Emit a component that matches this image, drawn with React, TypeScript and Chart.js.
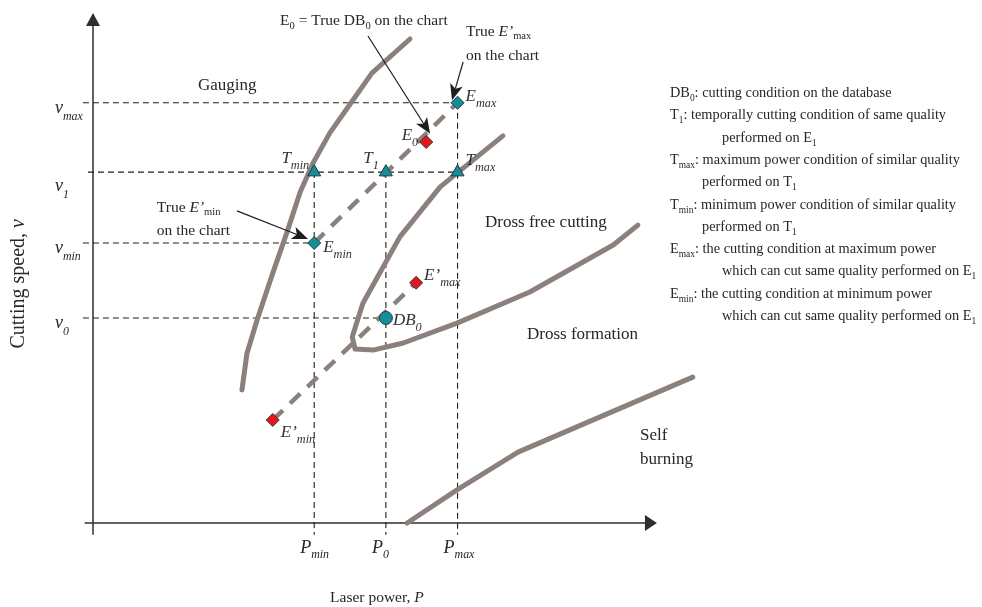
import React, { useEffect, useRef } from "react";
import { Chart, registerables } from "chart.js";

Chart.register(...registerables);

// ---------------- Data (arbitrary units: P = laser power, v = cutting speed) ----------------
const powerTickLabels = ["P_min", "P_0", "P_max"];
const powerTickValues = [39.5, 52.3, 65.1];
const speedTickLabels = ["v_max", "v_1", "v_min", "v_0"];
const speedTickValues = [82.4, 68.8, 54.9, 40.2];

const gaugingP = [26.6, 27.5, 29.3, 32.1, 34.6, 37.0, 39.3, 42.3, 46.4, 49.8, 56.6];
const gaugingV = [26.1, 33.3, 39.8, 49.0, 56.9, 64.9, 70.6, 76.5, 82.9, 88.2, 94.9];
const drossP = [73.2, 65.0, 62.0, 54.8, 48.2, 46.3, 46.8, 50.0, 55.4, 65.0, 78.0, 92.9, 97.3];
const drossV = [75.9, 68.6, 65.9, 56.1, 43.1, 36.5, 34.1, 33.9, 35.3, 39.2, 45.3, 54.5, 58.4];
const burningP = [56.1, 65.0, 75.9, 107.1];
const burningV = [0, 6.5, 13.9, 28.6];

const tLabels = ["T_min", "T_1", "T_max"];
const tP = [39.5, 52.3, 65.1];
const tV = [68.8, 68.8, 68.8];
const eLabels = ["E_max", "E_min"];
const eP = [65.1, 39.5];
const eV = [82.4, 54.9];
const ePrimeLabels = ["E_0", "E\u2019_max", "E\u2019_min"];
const ePrimeP = [59.5, 57.7, 32.1];
const ePrimeV = [74.7, 47.1, 20.2];
const dbLabels = ["DB_0"];
const dbP = [52.3];
const dbV = [40.2];

// guide lines: horizontal guides end at these powers, vertical guides start at these speeds
const speedGuideEnds = [eP[0], tP[2], eP[1], dbP[0]];
const powerGuideTops = [tV[0], tV[1], eV[0]];

const legendKeys = ["DB_0", "T_1", "T_max", "T_min", "E_max", "E_min"];
const legendTexts = [
  ["cutting condition on the database"],
  ["temporally cutting condition of same quality", "performed on E_1"],
  ["maximum power condition of similar quality", "performed on T_1"],
  ["minimum power condition of similar quality", "performed on T_1"],
  ["the cutting condition at maximum power", "which can cut same quality performed on E_1"],
  ["the cutting condition at minimum power", "which can cut same quality performed on E_1"],
];

// ---------------- Styles / layout ----------------
const FONT = '"Liberation Serif", "Times New Roman", serif';
const TEXT = "#262626";
const CURVE = "#8b807c";
const TEAL = "#12909a";
const RED = "#e8141c";
const EDGE = "#27393b";
const GUIDE_START = -1.8;
const GUIDE_BOTTOM = -2.3;

const legendIndent = [0, 52, 32, 32, 52, 52];
const tLabelOffsets = [[-5, -9, "right"], [-7, -9, "right"], [8, -7, "left"]];
const eLabelOffsets = [[8, -2, "left"], [9, 9, "left"]];
const ePrimeLabelOffsets = [[-8, -2, "right"], [8, -3, "left"], [8, 17, "left"]];
const dbLabelOffsets = [[7, 7, "left"]];

type Part = { t: string; sub?: boolean; it?: boolean };

function parseLabel(s: string, it: boolean, subIt: boolean = it): Part[] {
  const i = s.indexOf("_");
  if (i < 0) return [{ t: s, it }];
  return [{ t: s.slice(0, i), it }, { t: s.slice(i + 1), sub: true, it: subIt }];
}

function drawRich(
  ctx: CanvasRenderingContext2D,
  parts: Part[],
  x: number,
  y: number,
  size: number,
  opts: { align?: string; subScale?: number; subDy?: number; sx?: number; color?: string } = {}
) {
  const subScale = opts.subScale ?? 0.7;
  const subDy = opts.subDy ?? size * 0.3;
  const sx = opts.sx ?? 1;
  const fontFor = (p: Part) =>
    `${p.it ? "italic " : ""}${p.sub ? size * subScale : size}px ${FONT}`;
  let total = 0;
  const widths = parts.map((p) => {
    ctx.font = fontFor(p);
    const w = ctx.measureText(p.t).width;
    total += w;
    return w;
  });
  ctx.save();
  ctx.translate(x, y);
  ctx.scale(sx, 1);
  let cx = opts.align === "center" ? -total / 2 : opts.align === "right" ? -total : 0;
  ctx.fillStyle = opts.color ?? TEXT;
  ctx.textAlign = "left";
  ctx.textBaseline = "alphabetic";
  parts.forEach((p, i) => {
    ctx.font = fontFor(p);
    ctx.fillText(p.t, cx, p.sub ? subDy : 0);
    cx += widths[i];
  });
  ctx.restore();
}

function drawArrow(ctx: CanvasRenderingContext2D, x1: number, y1: number, x2: number, y2: number) {
  const head = 16;
  const half = 6.5;
  const a = Math.atan2(y2 - y1, x2 - x1);
  const bx = x2 - Math.cos(a) * head;
  const by = y2 - Math.sin(a) * head;
  ctx.save();
  ctx.strokeStyle = "#1e1e1e";
  ctx.fillStyle = "#1e1e1e";
  ctx.lineWidth = 1.2;
  ctx.beginPath();
  ctx.moveTo(x1, y1);
  ctx.lineTo(bx + Math.cos(a) * 4, by + Math.sin(a) * 4);
  ctx.stroke();
  ctx.beginPath();
  ctx.moveTo(x2, y2);
  ctx.lineTo(bx + Math.sin(a) * half, by - Math.cos(a) * half);
  ctx.lineTo(bx + Math.cos(a) * 4, by + Math.sin(a) * 4);
  ctx.lineTo(bx - Math.sin(a) * half, by + Math.cos(a) * half);
  ctx.closePath();
  ctx.fill();
  ctx.restore();
}

const zip = (a: number[], b: number[]) => a.map((x, i) => ({ x, y: b[i] }));

const diagramPlugin = {
  id: "diagram",
  beforeDatasetsDraw(chart: any) {
    const ctx: CanvasRenderingContext2D = chart.ctx;
    const xs = chart.scales.x;
    const ys = chart.scales.y;
    const ox = xs.getPixelForValue(0);
    const oy = ys.getPixelForValue(0);
    ctx.save();
    ctx.strokeStyle = "#2e2e2e";
    ctx.fillStyle = "#2e2e2e";
    ctx.lineWidth = 1.5;
    // y axis
    const yTip = ys.getPixelForValue(100);
    ctx.beginPath();
    ctx.moveTo(ox, ys.getPixelForValue(GUIDE_BOTTOM));
    ctx.lineTo(ox, yTip + 12);
    ctx.stroke();
    ctx.beginPath();
    ctx.moveTo(ox, yTip);
    ctx.lineTo(ox - 7, yTip + 13);
    ctx.lineTo(ox + 7, yTip + 13);
    ctx.closePath();
    ctx.fill();
    // x axis
    const xTip = xs.getPixelForValue(100.7);
    ctx.beginPath();
    ctx.moveTo(xs.getPixelForValue(-1.5), oy);
    ctx.lineTo(xTip - 11, oy);
    ctx.stroke();
    ctx.beginPath();
    ctx.moveTo(xTip, oy);
    ctx.lineTo(xTip - 12, oy - 8);
    ctx.lineTo(xTip - 12, oy + 8);
    ctx.closePath();
    ctx.fill();
    ctx.restore();
  },
  afterDatasetsDraw(chart: any) {
    const ctx: CanvasRenderingContext2D = chart.ctx;
    const xs = chart.scales.x;
    const ys = chart.scales.y;
    const X = (p: number) => xs.getPixelForValue(p);
    const Y = (v: number) => ys.getPixelForValue(v);
    const area = chart.chartArea;

    // tick labels
    speedTickLabels.forEach((lab, i) => {
      const dy = lab === "v_1" ? 19 : 10;
      drawRich(ctx, parseLabel(lab, true), X(0) - 38, Y(speedTickValues[i]) + dy, 18, {
        subScale: 0.66,
        subDy: 7,
      });
    });
    powerTickLabels.forEach((lab, i) => {
      drawRich(ctx, parseLabel(lab, true), X(powerTickValues[i]) - 14, Y(0) + 30, 18, {
        subScale: 0.66,
        subDy: 5,
      });
    });

    // axis titles
    drawRich(ctx, [{ t: "Laser power, " }, { t: "P", it: true }], X(50.7), Y(-15.5), 15.5, {
      align: "center",
    });
    ctx.save();
    ctx.translate(X(-12.3), Y(46.9));
    ctx.rotate(-Math.PI / 2);
    drawRich(ctx, [{ t: "Cutting speed, " }, { t: "v", it: true }], 0, 0, 20, { align: "center" });
    ctx.restore();

    // region labels
    drawRich(ctx, [{ t: "Gauging" }], X(18.75), Y(84.9), 17);
    drawRich(ctx, [{ t: "Dross free cutting" }], X(70.0), Y(58.0), 17);
    drawRich(ctx, [{ t: "Dross formation" }], X(77.5), Y(36.1), 17);
    drawRich(ctx, [{ t: "Self" }], X(97.7), Y(16.3), 17);
    drawRich(ctx, [{ t: "burning" }], X(97.7), Y(11.6), 17);

    // annotations
    drawRich(
      ctx,
      [{ t: "E" }, { t: "0", sub: true }, { t: " = True DB" }, { t: "0", sub: true }, { t: " on the chart" }],
      X(33.4),
      Y(97.6),
      15.5,
      { subScale: 0.68, subDy: 4 }
    );
    drawRich(ctx, [{ t: "True " }, { t: "E\u2019", it: true }, { t: "max", sub: true }], X(66.6), Y(95.5), 15.5, {
      subScale: 0.68,
      subDy: 3,
    });
    drawRich(ctx, [{ t: "on the chart" }], X(66.6), Y(90.8), 15.5);
    drawRich(ctx, [{ t: "True " }, { t: "E\u2019", it: true }, { t: "min", sub: true }], X(11.4), Y(61.0), 15.5, {
      subScale: 0.68,
      subDy: 3,
    });
    drawRich(ctx, [{ t: "on the chart" }], X(11.4), Y(56.5), 15.5);

    drawArrow(ctx, X(49.1), Y(95.5), X(60.2), Y(76.3));
    drawArrow(ctx, X(66.1), Y(90.4), X(64.1), Y(82.9));
    drawArrow(ctx, X(25.7), Y(61.2), X(38.4), Y(55.7));

    // point labels
    const pointLabel = (labels: string[], ps: number[], vs: number[], offs: any[]) => {
      labels.forEach((lab, i) => {
        const [dx, dy, align] = offs[i];
        drawRich(ctx, parseLabel(lab, true), X(ps[i]) + dx, Y(vs[i]) + dy, 17, {
          align,
          subScale: 0.72,
          subDy: 6,
          color: "#333",
        });
      });
    };
    pointLabel(tLabels, tP, tV, tLabelOffsets);
    pointLabel(eLabels, eP, eV, eLabelOffsets);
    pointLabel(ePrimeLabels, ePrimeP, ePrimeV, ePrimeLabelOffsets);
    pointLabel(dbLabels, dbP, dbV, dbLabelOffsets);

    // legend text
    const lx = area.right + 17;
    let line = 0;
    legendKeys.forEach((key, i) => {
      legendTexts[i].forEach((txt, j) => {
        const y = 97 + line * 22.3;
        const parts: Part[] = [];
        if (j === 0) {
          parts.push(...parseLabel(key, false), { t: ": " });
        }
        parts.push(...parseLabel(txt, false));
        drawRich(ctx, parts, lx + (j === 0 ? 0 : legendIndent[i]), y, 15, {
          subScale: 0.66,
          subDy: 4,
          sx: 0.955,
        });
        line++;
      });
    });
  },
};

export default function App() {
  const ref = useRef<HTMLCanvasElement>(null);
  useEffect(() => {
    const lineDs = (data: { x: number; y: number }[], extra: any = {}) => ({
      data,
      showLine: true,
      pointRadius: 0,
      pointHoverRadius: 0,
      tension: 0,
      clip: false,
      fill: false,
      ...extra,
    });
    const guides: any[] = [];
    speedTickValues.forEach((v, i) => {
      const start = speedTickLabels[i] === "v_1" ? -0.9 : GUIDE_START;
      guides.push(
        lineDs(
          [
            { x: start, y: v },
            { x: speedGuideEnds[i], y: v },
          ],
          { borderColor: "#1e1e1e", borderWidth: 1.1, borderDash: [6, 4], order: 5 }
        )
      );
    });
    powerTickValues.forEach((p, i) => {
      guides.push(
        lineDs(
          [
            { x: p, y: powerGuideTops[i] },
            { x: p, y: GUIDE_BOTTOM },
          ],
          { borderColor: "#1e1e1e", borderWidth: 1.1, borderDash: [6, 4], order: 5 }
        )
      );
    });
    const curveStyle = {
      borderColor: CURVE,
      borderWidth: 5,
      borderCapStyle: "round",
      borderJoinStyle: "round",
      order: 4,
    };
    const dashStyle = {
      borderColor: CURVE,
      borderWidth: 4.5,
      borderDash: [14, 10],
      borderCapStyle: "butt",
      order: 3,
    };
    const markerDs = (data: any[], style: string, color: string, r: number) => ({
      data,
      showLine: false,
      pointStyle: style,
      pointRadius: r,
      pointHoverRadius: r,
      pointBackgroundColor: color,
      pointBorderColor: EDGE,
      pointBorderWidth: 1,
      clip: false,
      order: 1,
    });

    const chart = new Chart(ref.current!, {
      type: "scatter",
      data: {
        datasets: [
          ...guides,
          lineDs(zip(gaugingP, gaugingV), curveStyle),
          lineDs(zip(drossP, drossV), curveStyle),
          lineDs(zip(burningP, burningV), curveStyle),
          lineDs(
            [
              { x: eP[1], y: eV[1] },
              { x: eP[0], y: eV[0] },
            ],
            dashStyle
          ),
          lineDs(
            [
              { x: ePrimeP[2], y: ePrimeV[2] },
              { x: ePrimeP[1], y: ePrimeV[1] },
            ],
            dashStyle
          ),
          markerDs(zip(tP, tV), "triangle", TEAL, 7.5),
          markerDs(zip(eP, eV), "rectRot", TEAL, 6.5),
          markerDs(zip(ePrimeP, ePrimeV), "rectRot", RED, 6.5),
          markerDs(zip(dbP, dbV), "circle", TEAL, 6.5),
        ] as any,
      },
      options: {
        responsive: false,
        animation: false,
        devicePixelRatio: 1,
        layout: { padding: { left: 93, right: 329, top: 13, bottom: 84 } },
        scales: {
          x: { type: "linear", min: 0, max: 100, display: false },
          y: { type: "linear", min: 0, max: 100, display: false },
        },
        plugins: {
          legend: { display: false },
          tooltip: { enabled: false },
        },
        events: [],
      } as any,
      plugins: [diagramPlugin],
    });
    return () => chart.destroy();
  }, []);

  return (
    <div style={{ position: "absolute", left: 0, top: 0, width: 982, height: 607, background: "#fff" }}>
      <canvas ref={ref} width={982} height={607} style={{ display: "block", width: 982, height: 607 }} />
    </div>
  );
}
